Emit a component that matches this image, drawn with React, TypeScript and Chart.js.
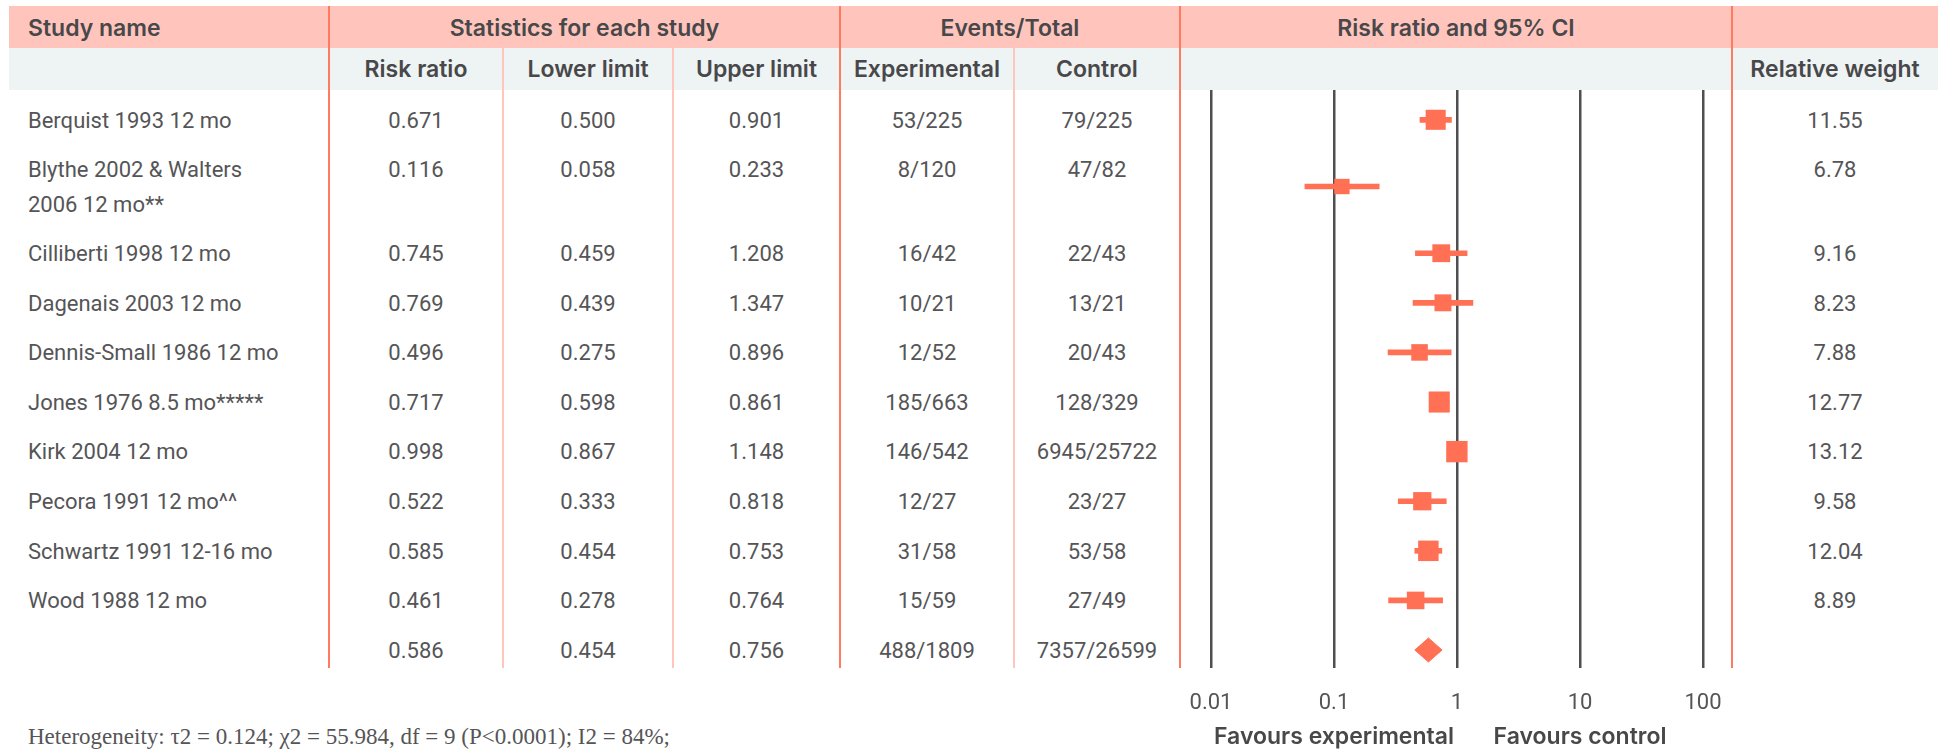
import React, { useEffect, useRef } from "react";
import { Chart, registerables } from "chart.js";

Chart.register(...registerables);

// ---------- data ----------
const studyNames = [
  "Berquist 1993 12 mo",
  "Blythe 2002 & Walters\n2006 12 mo**",
  "Cilliberti 1998 12 mo",
  "Dagenais 2003 12 mo",
  "Dennis-Small 1986 12 mo",
  "Jones 1976 8.5 mo*****",
  "Kirk 2004 12 mo",
  "Pecora 1991 12 mo^^",
  "Schwartz 1991 12-16 mo",
  "Wood 1988 12 mo",
];
const riskRatio = [0.671, 0.116, 0.745, 0.769, 0.496, 0.717, 0.998, 0.522, 0.585, 0.461];
const lowerLimit = [0.5, 0.058, 0.459, 0.439, 0.275, 0.598, 0.867, 0.333, 0.454, 0.278];
const upperLimit = [0.901, 0.233, 1.208, 1.347, 0.896, 0.861, 1.148, 0.818, 0.753, 0.764];
const experimentalEvents = ["53/225", "8/120", "16/42", "10/21", "12/52", "185/663", "146/542", "12/27", "31/58", "15/59"];
const controlEvents = ["79/225", "47/82", "22/43", "13/21", "20/43", "128/329", "6945/25722", "23/27", "53/58", "27/49"];
const relativeWeight = [11.55, 6.78, 9.16, 8.23, 7.88, 12.77, 13.12, 9.58, 12.04, 8.89];

const summaryRatio = 0.586;
const summaryLower = 0.454;
const summaryUpper = 0.756;
const summaryExperimental = "488/1809";
const summaryControl = "7357/26599";

const xTickValues = [0.01, 0.1, 1, 10, 100];
const headerTop = ["Study name", "Statistics for each study", "Events/Total", "Risk ratio and 95% CI", ""];
const headerSub = ["", "Risk ratio", "Lower limit", "Upper limit", "Experimental", "Control", "", "Relative weight"];
const favourLabels = ["Favours experimental", "Favours control"];
const favourAnchors = [0.1, 10];
const heterogeneityNote = "Heterogeneity: τ2 = 0.124; χ2 = 55.984, df = 9 (P<0.0001); I2 = 84%;";

// ---------- layout / style ----------
const COL = [9, 329, 503, 673, 840, 1014, 1180, 1732, 1938];
const PINK = "#FFC5BD";
const SALMON = "#FF7A5E";
const LIGHT = "#FFC6BE";
const GRAY_BG = "#EEF3F3";
const MARK = "#FF7055";
const GRID = "#4F4F52";
const HEAD_TXT = "#48484A";
const BODY_TXT = "#555557";
const SANS = "Roboto, 'Noto Sans', sans-serif";
const HEAD_SANS = "Inter, Roboto, sans-serif";
const ROW_UNIT = 49.6;
const ROWS_TOP = 95;
const PLOT_TOP = 90;
const PLOT_BOTTOM = 668;
const CANVAS_W = COL[7] - COL[6];
const CANVAS_H = 660;
const LINE_H = 35;

const nameLines = studyNames.map((s) => s.split("\n").length);
const rowHeights = nameLines.map((n) => 1 + (n - 1) * 0.69);
const rowTops: number[] = [];
{
  let acc = 0;
  rowHeights.forEach((h) => {
    rowTops.push(acc);
    acc += h;
  });
  rowTops.push(acc); // summary row
}
const rowCenters = rowHeights.map((h, i) => rowTops[i] + h / 2);
const summaryTop = rowTops[rowTops.length - 1];
const summaryCenter = summaryTop + 0.5;

function Txt(props: {
  left: number;
  width: number;
  cy: number;
  text: string;
  align?: "left" | "center";
  head?: boolean;
}) {
  const lines = props.text.split("\n");
  return (
    <div
      style={{
        position: "absolute",
        left: props.left,
        width: props.width,
        top: props.cy - LINE_H / 2,
        lineHeight: LINE_H + "px",
        textAlign: props.align || "center",
        fontFamily: props.head ? HEAD_SANS : SANS,
        fontSize: props.head ? 23 : 22,
        fontWeight: props.head ? 600 : 400,
        color: props.head ? HEAD_TXT : BODY_TXT,
        whiteSpace: "nowrap",
      }}
    >
      {lines.map((l, i) => (
        <div key={i}>{l}</div>
      ))}
    </div>
  );
}

export default function App() {
  const canvasRef = useRef<HTMLCanvasElement>(null);

  useEffect(() => {
    const canvas = canvasRef.current!;
    const yMin = -(ROWS_TOP - PLOT_TOP) / ROW_UNIT;
    const yMax = yMin + (PLOT_BOTTOM - PLOT_TOP) / ROW_UNIT;
    const whiskers = riskRatio.map((_, i) => ({ y: rowCenters[i], x: [lowerLimit[i], upperLimit[i]] }));
    const squares = riskRatio.map((v, i) => ({ x: v, y: rowCenters[i] }));
    const dh = 12 / ROW_UNIT;
    const diamond = [
      { x: summaryLower, y: summaryCenter },
      { x: summaryRatio, y: summaryCenter - dh },
      { x: summaryUpper, y: summaryCenter },
      { x: summaryRatio, y: summaryCenter + dh },
      { x: summaryLower, y: summaryCenter },
    ];
    const favourPlugin = {
      id: "favourLabels",
      afterDraw(chart: any) {
        const ctx = chart.ctx;
        const xs = chart.scales.x;
        ctx.save();
        ctx.font = `600 23px ${HEAD_SANS}`;
        ctx.fillStyle = HEAD_TXT;
        ctx.textAlign = "center";
        ctx.textBaseline = "middle";
        favourLabels.forEach((t, i) => {
          ctx.fillText(t, xs.getPixelForValue(favourAnchors[i]), 737 - PLOT_TOP);
        });
        ctx.restore();
      },
    };
    const decade = 123;
    const firstGrid = 31;
    const lastGap = 29;
    const xMin = Math.pow(10, -2 - firstGrid / decade);
    const xMax = Math.pow(10, 2 + lastGap / decade);

    const chart = new Chart(canvas, {
      type: "scatter",
      data: {
        datasets: [
          {
            type: "bar",
            indexAxis: "y",
            data: whiskers as any,
            backgroundColor: MARK,
            barThickness: 5,
            grouped: false,
            borderWidth: 0,
            order: 3,
          } as any,
          {
            type: "scatter",
            data: squares,
            pointStyle: "rect",
            pointRadius: relativeWeight.map((w) => 5.9 * Math.sqrt(w) * Math.SQRT1_2),
            pointBackgroundColor: MARK,
            pointBorderWidth: 0,
            backgroundColor: MARK,
            borderColor: MARK,
            order: 2,
          } as any,
          {
            type: "line",
            data: diamond,
            fill: "shape",
            backgroundColor: MARK,
            borderColor: MARK,
            borderWidth: 1,
            pointRadius: 0,
            tension: 0,
            order: 1,
          } as any,
        ],
      },
      options: {
        responsive: false,
        animation: false,
        devicePixelRatio: 1,
        events: [],
        layout: { padding: 0, autoPadding: false },
        plugins: { legend: { display: false }, tooltip: { enabled: false } },
        scales: {
          x: {
            type: "logarithmic",
            position: "bottom",
            min: xMin,
            max: xMax,
            offset: false,
            afterBuildTicks: (s: any) => {
              s.ticks = xTickValues.map((v) => ({ value: v }));
            },
            afterFit: (s: any) => {
              s.height = CANVAS_H - (PLOT_BOTTOM - PLOT_TOP);
              s.paddingLeft = 0;
              s.paddingRight = 0;
            },
            grid: { color: GRID, lineWidth: 2.5, drawTicks: false, offset: false },
            border: { display: false },
            ticks: {
              autoSkip: false,
              maxRotation: 0,
              padding: 0,
              color: BODY_TXT,
              font: { family: SANS, size: 22, lineHeight: "70px" },
              callback: (v: any) => String(v),
            },
          } as any,
          y: {
            type: "linear",
            display: false,
            reverse: true,
            offset: false,
            grace: 0,
            min: yMin,
            max: yMax,
            grid: { offset: false },
          } as any,
        },
      },
      plugins: [favourPlugin],
    } as any);
    return () => chart.destroy();
  }, []);

  const rowTopPx = (u: number) => ROWS_TOP + u * ROW_UNIT;
  const firstLineCy = (u: number) => rowTopPx(u) + 7.5 + LINE_H / 2;

  const cells = (i: number) => [
    riskRatio[i].toFixed(3),
    lowerLimit[i].toFixed(3),
    upperLimit[i].toFixed(3),
    experimentalEvents[i],
    controlEvents[i],
    "",
    relativeWeight[i].toFixed(2),
  ];
  const summaryCells = [
    summaryRatio.toFixed(3),
    summaryLower.toFixed(3),
    summaryUpper.toFixed(3),
    summaryExperimental,
    summaryControl,
    "",
    "",
  ];

  const vLine = (x: number, top: number, color: string, key: string) => (
    <div
      key={key}
      style={{ position: "absolute", left: x - 1.25, top, width: 2.5, height: PLOT_BOTTOM - top, background: color }}
    />
  );

  return (
    <div style={{ position: "absolute", left: 0, top: 0, width: 1946, height: 750, background: "#fff", overflow: "hidden" }}>
      <div style={{ position: "absolute", left: COL[0], top: 6, width: COL[8] - COL[0], height: 42, background: PINK }} />
      <div style={{ position: "absolute", left: COL[0], top: 48, width: COL[8] - COL[0], height: 42, background: GRAY_BG }} />

      {/* top header */}
      <Txt left={28} width={280} cy={28} text={headerTop[0]} align="left" head />
      <Txt left={COL[1]} width={COL[4] - COL[1]} cy={28} text={headerTop[1]} head />
      <Txt left={COL[4]} width={COL[6] - COL[4]} cy={28} text={headerTop[2]} head />
      <Txt left={COL[6]} width={COL[7] - COL[6]} cy={28} text={headerTop[3]} head />
      <Txt left={COL[7]} width={COL[8] - COL[7]} cy={28} text={headerTop[4]} head />

      {/* sub header */}
      {headerSub.map((h, c) =>
        h ? <Txt key={"sh" + c} left={COL[c]} width={COL[c + 1] - COL[c]} cy={69} text={h} head /> : null
      )}

      {/* rows */}
      {studyNames.map((name, i) => (
        <React.Fragment key={"r" + i}>
          <Txt left={28} width={300} cy={firstLineCy(rowTops[i])} text={name} align="left" />
          {cells(i).map((t, c) =>
            t ? (
              <Txt key={"c" + c} left={COL[c + 1]} width={COL[c + 2] - COL[c + 1]} cy={firstLineCy(rowTops[i])} text={t} />
            ) : null
          )}
        </React.Fragment>
      ))}
      {summaryCells.map((t, c) =>
        t ? (
          <Txt key={"s" + c} left={COL[c + 1]} width={COL[c + 2] - COL[c + 1]} cy={firstLineCy(summaryTop)} text={t} />
        ) : null
      )}

      {/* column separators */}
      {[COL[1], COL[4], COL[6], COL[7]].map((x, k) => vLine(x, 6, SALMON, "s" + k))}
      {[COL[2], COL[3], COL[5]].map((x, k) => vLine(x, 48, LIGHT, "l" + k))}

      <canvas
        ref={canvasRef}
        width={CANVAS_W}
        height={CANVAS_H}
        style={{ position: "absolute", left: COL[6], top: PLOT_TOP, width: CANVAS_W, height: CANVAS_H }}
      />

      <div
        style={{
          position: "absolute",
          left: 28,
          top: 737 - 15,
          lineHeight: "30px",
          fontFamily: "'Liberation Serif', 'DejaVu Serif', serif",
          fontSize: 23,
          color: BODY_TXT,
          whiteSpace: "nowrap",
        }}
      >
        {heterogeneityNote}
      </div>
    </div>
  );
}
